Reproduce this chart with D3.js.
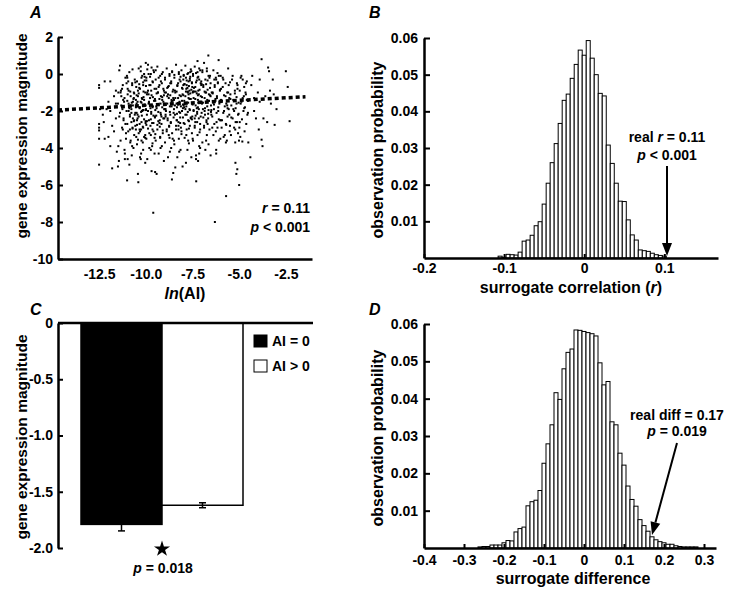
<!DOCTYPE html>
<html>
<head>
<meta charset="utf-8">
<script src="https://cdn.jsdelivr.net/npm/d3@7"></script>
<style>
body { margin: 0; background: #fff; }
svg { font-family: "Liberation Sans", Arial, Helvetica, sans-serif; font-weight: bold; }
</style>
</head>
<body>
<div id="chart"></div>
<script>
var FONT = '"Liberation Sans", Arial, Helvetica, sans-serif';

// ---- panel A: ln(AI) vs gene expression magnitude ----
var scatterA = [
[-12.5,-0.6],[-12.5,-0.75],[-12.5,-2.7],[-12.5,-2.9],[-12.5,-3.5],[-12.5,-4.9],[-12.45,-1.9],[-12.5,-3.05],
[-12.2,-0.4],[-12.1,-1.9],[-12.3,-2.2],[-12.0,-3.4],[-11.9,-3.9],[-12.2,-3.5],[-11.8,-5.1],[-11.7,-1.2],[-11.9,-0.4],[-11.6,-2.4],[-11.8,-2.8],[-12.0,-1.5],[-11.6,-0.9],[-11.7,-3.1],[-12.25,-2.6],[-11.55,-4.2],[-11.9,-2.0],[-11.6,-1.6],
[-11.38,0.45],[-11.09,-0.2],[-11.23,-0.6],[-11.47,-1.0],[-11.14,-1.3],[-11.31,-1.7],[-11.03,-2.0],[-11.42,-2.3],[-11.19,-2.5],[-11.27,-2.9],[-11.06,-3.2],[-11.35,-3.6],[-11.12,-4.3],[-11.49,-5.0],[-11.0,-5.75],[-11.44,-4.7],[-11.01,-0.1],[-11.33,-0.9],[-11.16,-1.5],[-11.25,-1.9],
[-11.38,-2.1],[-11.09,-2.7],[-11.23,-3.0],[-11.47,-3.9],[-11.14,-4.1],[-11.31,-1.2],[-11.03,-0.5],[-11.42,0.2],[-11.19,-2.4],[-11.27,-0.8],[-11.06,-3.5],[-11.35,-1.0],[-11.12,-4.6],[-11.49,-1.6],[-11.21,-1.4],
[-10.88,0.1],[-10.59,-0.3],[-10.73,-0.5],[-10.97,-0.8],[-10.64,-1.0],[-10.81,-1.2],[-10.53,-1.4],[-10.92,-1.6],[-10.69,-1.7],[-10.77,-1.9],[-10.56,-2.1],[-10.85,-2.3],[-10.62,-2.5],[-10.99,-2.7],[-10.71,-2.9],[-10.94,-3.1],[-10.51,-3.4],[-10.83,-3.7],[-10.66,-4.0],[-10.75,-4.4],
[-10.88,-4.9],[-10.4,-5.85],[-10.73,-0.6],[-10.97,-1.1],[-10.64,-1.3],[-10.81,-1.7],[-10.53,-1.8],[-10.92,-2.0],[-10.69,-2.4],[-10.77,-2.6],[-10.56,-2.8],[-10.85,-3.0],[-10.62,-3.3],[-10.99,-0.2],[-10.71,0.25],[-10.94,-0.4],[-10.51,-0.7],[-10.83,-0.95],[-10.66,-1.35],[-10.75,-1.55],
[-10.88,-1.85],[-10.59,-2.2],[-10.73,-3.9],[-10.97,-4.6],[-10.64,-2.55],[-10.81,-3.6],[-10.53,-3.0],[-10.92,-0.9],[-10.69,-1.5],[-10.77,-2.1],[-10.56,-0.45],[-10.85,-2.2],[-10.62,-1.05],[-10.99,-1.45],[-10.71,-2.95],
[-10.38,0.3],[-10.09,0.0],[-10.23,-0.2],[-10.47,-0.4],[-10.14,-0.6],[-10.31,-0.8],[-10.03,-1.0],[-10.42,-1.2],[-10.19,-1.35],[-10.27,-1.5],[-10.06,-1.65],[-10.35,-1.8],[-10.12,-1.95],[-10.49,-2.1],[-10.21,-2.25],[-10.44,-2.4],[-10.01,-2.55],[-10.33,-2.7],[-10.16,-2.85],[-10.25,-3.0],
[-10.38,-3.2],[-10.09,-3.4],[-10.23,-3.6],[-10.47,-3.8],[-10.14,-4.1],[-10.31,-4.5],[-10.03,-4.8],[-10.42,-5.4],[-10.0,0.6],[-10.27,0.4],[-10.06,-0.35],[-10.35,-0.55],[-10.12,-0.95],[-10.49,-1.15],[-10.21,-1.3],[-10.44,-1.5],[-10.01,-1.7],[-10.33,-1.85],[-10.16,-1.95],[-10.25,-2.05],
[-10.38,-2.3],[-10.09,-2.45],[-10.23,-2.6],[-10.47,-2.75],[-10.14,-2.9],[-10.31,-3.1],[-10.03,-3.3],[-10.42,-3.55],[-10.19,-0.1],[-10.27,0.15],[-10.06,-0.15],[-10.35,-0.75],[-10.12,-1.25],[-10.49,-1.6],[-10.21,-2.0],[-10.44,-2.2],[-10.01,-2.65],[-10.33,-3.0],[-10.16,-3.7],[-10.25,-4.3],
[-10.38,-1.05],[-10.09,-1.4],[-10.23,-1.55],[-10.47,-2.5],[-10.14,-0.45],[-10.31,-1.8],[-10.03,-3.45],[-10.42,-0.9],[-10.19,-2.0],[-10.27,-4.6],
[-9.88,0.5],[-9.59,0.2],[-9.73,0.0],[-9.97,-0.2],[-9.64,-0.4],[-9.81,-0.6],[-9.53,-0.8],[-9.92,-1.0],[-9.69,-1.15],[-9.77,-1.3],[-9.56,-1.45],[-9.85,-1.6],[-9.62,-1.75],[-9.99,-1.9],[-9.71,-2.05],[-9.94,-2.2],[-9.51,-2.35],[-9.83,-2.5],[-9.66,-2.65],[-9.75,-2.8],
[-9.88,-2.95],[-9.59,-3.1],[-9.73,-3.3],[-9.97,-3.5],[-9.64,-3.75],[-9.81,-4.0],[-9.53,-4.3],[-9.92,-4.6],[-9.69,-5.25],[-9.5,-5.3],[-9.6,-7.5],[-9.85,0.0],[-9.62,-0.45],[-9.99,-0.65],[-9.71,-0.9],[-9.94,-1.1],[-9.51,-1.35],[-9.83,-1.55],[-9.66,-1.7],[-9.75,-1.85],
[-9.88,-2.0],[-9.59,-2.25],[-9.73,-2.45],[-9.97,-2.75],[-9.64,-3.0],[-9.81,-3.2],[-9.53,-3.45],[-9.92,0.25],[-9.69,0.35],[-9.77,-0.15],[-9.56,0.1],[-9.85,-1.1],[-9.62,-1.25],[-9.99,-1.95],[-9.71,-2.15],[-9.94,-2.55],[-9.51,-2.3],[-9.83,-1.5],[-9.66,-3.9],[-9.75,-0.6],
[-9.88,-0.9],[-9.59,-2.65],[-9.73,-4.1],[-9.97,-0.35],[-9.64,-1.8],
[-9.38,0.4],[-9.09,0.1],[-9.23,-0.1],[-9.47,-0.3],[-9.14,-0.5],[-9.31,-0.7],[-9.03,-0.9],[-9.42,-1.05],[-9.19,-1.2],[-9.27,-1.35],[-9.06,-1.5],[-9.35,-1.65],[-9.12,-1.8],[-9.49,-1.95],[-9.21,-2.1],[-9.44,-2.25],[-9.01,-2.4],[-9.33,-2.55],[-9.16,-2.7],[-9.25,-2.85],
[-9.38,-3.0],[-9.09,-3.2],[-9.23,-3.4],[-9.47,-3.6],[-9.14,-3.9],[-9.31,-4.3],[-9.03,-4.7],[-9.42,-5.4],[-9.19,-0.4],[-9.27,-0.6],[-9.06,-0.8],[-9.35,-1.0],[-9.12,-1.25],[-9.49,-1.45],[-9.21,-1.6],[-9.44,-1.75],[-9.01,-1.9],[-9.33,-2.05],[-9.16,-2.3],[-9.25,-2.5],
[-9.38,-2.75],[-9.09,-3.05],[-9.23,-3.45],[-9.47,0.2],[-9.14,0.0],[-9.31,-0.2],[-9.03,-1.15],[-9.42,-1.85],[-9.19,-2.2],[-9.27,-2.65],[-9.06,-2.4],[-9.35,-1.0],[-9.12,-1.4],[-9.49,-3.25],[-9.21,-4.0],[-9.44,-0.8],
[-8.88,0.3],[-8.59,0.1],[-8.73,-0.1],[-8.97,-0.3],[-8.64,-0.5],[-8.81,-0.7],[-8.53,-0.85],[-8.92,-1.0],[-8.69,-1.15],[-8.77,-1.3],[-8.56,-1.45],[-8.85,-1.6],[-8.62,-1.75],[-8.99,-1.9],[-8.71,-2.05],[-8.94,-2.2],[-8.51,-2.35],[-8.83,-2.5],[-8.66,-2.65],[-8.75,-2.8],
[-8.88,-3.0],[-8.59,-3.2],[-8.73,-3.45],[-8.97,-3.7],[-8.64,-4.0],[-8.81,-4.5],[-8.53,-5.35],[-8.6,-5.7],[-8.69,-0.5],[-8.77,-0.65],[-8.56,-0.95],[-8.85,-1.2],[-8.62,-1.4],[-8.99,-1.6],[-8.71,-1.75],[-8.94,-1.9],[-8.51,-2.1],[-8.83,-2.4],[-8.66,-2.6],[-8.75,-2.85],
[-8.88,-3.1],[-8.59,0.15],[-8.73,0.0],[-8.97,-0.2],[-8.64,-0.4],[-8.81,-1.1],[-8.53,-1.3],[-8.92,-2.0],[-8.69,-2.2],[-8.77,-3.3],[-8.56,-3.5],[-8.85,-0.75],[-8.62,-1.5],[-8.99,-1.0],[-8.71,-4.2],[-8.94,-2.3],
[-8.38,0.5],[-8.09,0.2],[-8.23,0.0],[-8.47,-0.2],[-8.14,-0.4],[-8.31,-0.6],[-8.03,-0.8],[-8.42,-1.0],[-8.19,-1.15],[-8.27,-1.3],[-8.06,-1.45],[-8.35,-1.6],[-8.12,-1.75],[-8.49,-1.9],[-8.21,-2.05],[-8.44,-2.2],[-8.01,-2.35],[-8.33,-2.5],[-8.16,-2.65],[-8.25,-2.8],
[-8.38,-3.0],[-8.09,-3.25],[-8.23,-3.5],[-8.47,-3.8],[-8.14,-4.1],[-8.31,-4.5],[-8.03,-5.0],[-8.42,-5.05],[-8.19,-0.3],[-8.27,-0.5],[-8.06,-0.75],[-8.35,-0.95],[-8.12,-1.2],[-8.49,-1.4],[-8.21,-1.55],[-8.44,-1.7],[-8.01,-1.85],[-8.33,-2.15],[-8.16,-2.35],[-8.25,-2.6],
[-8.38,-2.8],[-8.09,-3.1],[-8.23,0.1],[-8.47,-0.05],[-8.14,-0.15],[-8.31,-0.65],[-8.03,-1.1],[-8.42,-1.3],[-8.19,-1.5],[-8.27,-1.65],[-8.06,-2.0],[-8.35,-2.5],[-8.12,-2.9],[-8.49,-3.6],[-8.21,-4.2],[-8.44,-0.9],[-8.01,-1.65],[-8.33,-1.8],[-8.16,-2.1],[-8.25,-3.0],
[-7.88,0.45],[-7.59,0.25],[-7.73,0.05],[-7.97,-0.1],[-7.64,-0.25],[-7.81,-0.35],[-7.53,-0.45],[-7.92,-0.55],[-7.69,-0.65],[-7.77,-0.75],[-7.56,-0.85],[-7.85,-0.95],[-7.62,-1.05],[-7.99,-1.15],[-7.71,-1.3],[-7.94,-1.45],[-7.51,-1.6],[-7.83,-1.75],[-7.66,-1.9],[-7.75,-2.05],
[-7.88,-2.2],[-7.59,-2.35],[-7.73,-2.5],[-7.97,-2.65],[-7.64,-2.8],[-7.81,-3.0],[-7.53,-3.2],[-7.92,-3.45],[-7.69,-3.75],[-7.77,-4.1],[-7.56,-4.5],[-7.85,-4.8],[-7.62,-0.15],[-7.99,-0.3],[-7.71,-0.4],[-7.94,-0.55],[-7.51,-0.7],[-7.83,-0.8],[-7.66,-0.9],[-7.75,-1.0],
[-7.88,-1.2],[-7.59,-1.35],[-7.73,-1.55],[-7.97,-1.7],[-7.64,-1.95],[-7.81,-2.2],[-7.53,-2.45],[-7.92,-2.7],[-7.69,-2.95],[-7.77,0.0],[-7.56,0.15],[-7.85,-0.2],[-7.62,0.1],[-7.99,-0.6],[-7.71,-1.1],[-7.94,-1.8],[-7.51,-2.3],[-7.83,-3.3],[-7.66,-1.35],[-7.75,-0.95],
[-7.88,-1.9],[-7.59,-2.4],[-7.73,-3.6],[-7.97,-0.05],[-7.64,-0.35],[-7.81,-0.6],[-7.53,-0.5],[-7.92,-1.6],[-7.69,-2.55],
[-7.38,0.4],[-7.09,0.2],[-7.23,0.7],[-7.47,-0.1],[-7.14,-0.3],[-7.31,-0.45],[-7.03,-0.6],[-7.42,-0.75],[-7.19,-0.9],[-7.27,-1.05],[-7.06,-1.2],[-7.35,-1.35],[-7.12,-1.5],[-7.49,-1.65],[-7.21,-1.8],[-7.44,-1.95],[-7.01,-2.1],[-7.33,-2.25],[-7.16,-2.4],[-7.25,-2.6],
[-7.38,-2.8],[-7.09,-3.0],[-7.23,-3.3],[-7.47,-3.6],[-7.14,-3.9],[-7.31,-4.6],[-7.2,-4.7],[-7.3,-5.8],[-7.19,-0.15],[-7.27,-0.35],[-7.06,-0.5],[-7.35,-0.7],[-7.12,-0.85],[-7.49,-1.0],[-7.21,-1.15],[-7.44,-1.3],[-7.01,-1.5],[-7.33,-1.7],[-7.16,-1.9],[-7.25,-2.15],
[-7.38,-2.4],[-7.09,-2.7],[-7.23,0.1],[-7.47,0.0],[-7.14,0.3],[-7.31,0.05],[-7.03,-0.4],[-7.42,-0.95],[-7.19,-1.55],[-7.27,-1.85],[-7.06,-2.3],[-7.35,-2.6],[-7.12,-3.15],[-7.49,-3.5],[-7.21,-1.4],[-7.44,-2.0],[-7.01,-0.55],[-7.33,-0.95],[-7.16,-1.1],[-7.25,-2.05],
[-7.38,-2.9],[-7.09,-4.0],[-7.23,-0.2],[-7.47,-0.95],[-7.14,-4.3],[-7.31,-4.4],
[-6.88,0.6],[-6.65,1.0],[-6.73,0.3],[-6.97,0.1],[-6.64,-0.1],[-6.81,-0.3],[-6.53,-0.5],[-6.92,-0.7],[-6.69,-0.85],[-6.77,-1.0],[-6.56,-1.15],[-6.85,-1.3],[-6.62,-1.45],[-6.99,-1.6],[-6.71,-1.75],[-6.94,-1.9],[-6.51,-2.05],[-6.83,-2.2],[-6.66,-2.4],[-6.75,-2.6],
[-6.88,-2.8],[-6.59,-3.0],[-6.73,-3.3],[-6.97,-3.7],[-6.64,-3.8],[-6.81,-4.1],[-6.53,-4.4],[-6.92,-0.6],[-6.69,-0.35],[-6.77,-0.55],[-6.56,-0.75],[-6.85,-0.95],[-6.62,-1.1],[-6.99,-1.25],[-6.71,-1.4],[-6.94,-1.55],[-6.51,-1.7],[-6.83,-1.85],[-6.66,-2.15],[-6.75,-2.5],
[-6.88,-2.9],[-6.59,-0.2],[-6.73,0.15],[-6.97,0.2],[-6.64,-1.95],[-6.81,-1.0],[-6.53,-1.2],[-6.92,-2.35],[-6.69,-2.7],[-6.77,-3.6],[-6.56,-0.1],[-6.85,-2.0],[-6.62,-1.45],
[-6.38,0.2],[-6.09,-0.1],[-6.23,-0.3],[-6.1,0.75],[-6.14,-0.5],[-6.31,-0.7],[-6.03,-0.9],[-6.42,-1.05],[-6.19,-1.2],[-6.27,-1.35],[-6.06,-1.5],[-6.35,-1.65],[-6.12,-1.8],[-6.49,-1.95],[-6.21,-2.1],[-6.44,-2.3],[-6.01,-2.5],[-6.33,-2.7],[-6.16,-2.9],[-6.25,-3.1],
[-6.38,-3.3],[-6.09,-3.6],[-6.23,-4.3],[-6.3,-8.0],[-6.14,-0.45],[-6.31,-0.6],[-6.03,-0.85],[-6.42,-1.0],[-6.19,-1.3],[-6.27,-1.45],[-6.06,-1.6],[-6.35,-1.9],[-6.12,-2.0],[-6.49,-2.2],[-6.21,-2.6],[-6.44,-2.9],[-6.01,-3.5],[-6.33,-0.3],[-6.16,0.05],[-6.25,-0.2],
[-6.38,-1.55],[-6.09,-2.45],[-6.23,-4.1],[-6.47,-1.0],
[-5.88,-0.2],[-5.59,0.3],[-5.73,-0.5],[-5.97,-0.8],[-5.64,-1.0],[-5.81,-1.15],[-5.53,-1.3],[-5.92,-1.45],[-5.69,-1.6],[-5.77,-1.75],[-5.56,-1.9],[-5.85,-2.1],[-5.62,-2.3],[-5.99,-2.5],[-5.71,-2.7],[-5.94,-2.9],[-5.51,-3.1],[-5.83,-3.4],[-5.66,-3.6],[-5.7,-6.6],
[-5.88,-0.7],[-5.59,-1.0],[-5.73,-1.2],[-5.97,-1.4],[-5.64,-1.7],[-5.81,-2.0],[-5.53,-2.2],[-5.92,-2.5],[-5.69,-2.75],[-5.77,-3.3],[-5.56,-0.6],[-5.85,-0.3],[-5.62,-1.85],[-5.99,-0.1],[-5.71,-3.7],
[-5.38,-0.3],[-5.09,-0.6],[-5.23,-0.9],[-5.47,-1.1],[-5.14,-1.25],[-5.31,-1.4],[-5.03,-1.55],[-5.42,-1.7],[-5.19,-1.85],[-5.27,-2.0],[-5.06,-2.2],[-5.35,-2.4],[-5.12,-2.6],[-5.49,-2.8],[-5.21,-3.0],[-5.44,-3.3],[-5.01,-3.6],[-5.1,-5.15],[-5.15,-5.4],[-5.0,-6.0],
[-5.2,-4.8],[-5.09,-0.8],[-5.23,-1.05],[-5.47,-1.35],[-5.14,-1.6],[-5.31,-1.9],[-5.03,-2.15],[-5.42,-2.35],[-5.19,-2.6],[-5.27,-2.9],[-5.06,-3.2],[-5.35,-0.1],[-5.12,-0.5],[-5.49,-0.45],[-5.21,-3.7],
[-4.88,-0.1],[-4.59,-0.4],[-4.73,-0.7],[-4.97,-0.9],[-4.64,-1.1],[-4.81,-1.3],[-4.53,-1.45],[-4.92,-1.6],[-4.69,-1.8],[-4.77,-2.0],[-4.56,-2.2],[-4.85,-2.45],[-4.62,-2.7],[-4.99,-2.9],[-4.71,-3.1],[-4.94,-3.4],[-4.51,-3.7],[-4.83,-3.65],[-4.66,-1.0],[-4.75,-1.2],
[-4.88,-1.5],[-4.59,-1.4],[-4.73,-1.85],[-4.97,-2.6],[-4.64,-0.5],[-4.81,-0.3],[-4.53,-2.1],[-4.92,-0.2],
[-4.4,-4.5],[-4.3,-0.1],[-4.2,-1.3],[-4.1,-2.4],[-3.95,-3.0],[-3.8,0.8],[-3.8,-3.55],[-3.75,-3.9],[-3.9,-1.5],[-3.7,-2.4],[-3.6,-1.2],[-3.5,-2.6],[-3.45,0.35],[-3.4,0.15],[-3.35,-0.9],[-3.3,-1.6],[-3.2,-0.3],[-3.1,-2.75],[-3.15,-1.1],[-3.0,-1.9],[-2.5,0.15],[-2.4,-0.7],[-2.3,-2.55],[-4.35,-0.6],[-4.2,-2.0],[-4.0,-1.0],[-3.9,-0.3]
];
var fitLineX = [-14.7, -1.45];
var fitLineY = [-1.95, -1.23];
var xTicksA = [-12.5, -10, -7.5, -5, -2.5];
var yTicksA = [2, 0, -2, -4, -6, -8, -10];

// ---- panel B: surrogate correlation histogram ----
var histBStart = -0.105, histBWidth = 0.005;
var histBProb = [0.0005, 0.0002, 0.0010, 0.0009, 0.0008, 0.0016, 0.0046, 0.0049, 0.0062, 0.0088,
  0.0099, 0.0147, 0.0204, 0.0260, 0.0312, 0.0367, 0.0430, 0.0447, 0.0490, 0.0528,
  0.0567, 0.0553, 0.0593, 0.0545, 0.0500, 0.0449, 0.0442, 0.0308, 0.0258, 0.0204,
  0.0155, 0.0154, 0.0104, 0.0063, 0.0049, 0.0022, 0.0020, 0.0018, 0.0013, 0.0009,
  0.0007, 0.0005];
var xTicksB = [-0.2, -0.1, 0, 0.1];
var yTicksProb = [0.01, 0.02, 0.03, 0.04, 0.05, 0.06];

// ---- panel C: mean expression by group ----
var groupsC = ["AI = 0", "AI > 0"];
var meansC = [-1.79, -1.62];
var semC = [0.058, 0.022];
var fillsC = ["#000", "#fff"];
var yTicksC = [0, -0.5, -1.0, -1.5, -2.0];

// ---- panel D: surrogate difference histogram ----
var histDStart = -0.26, histDWidth = 0.01;
var histDProb = [0.0003, 0.0004, 0.0004, 0.0008, 0.0008, 0.0008, 0.0014, 0.0020, 0.0019, 0.0043,
  0.0052, 0.0056, 0.0113, 0.0124, 0.0128, 0.0154, 0.0227, 0.0279, 0.0330, 0.0416,
  0.0398, 0.0480, 0.0524, 0.0533, 0.0584, 0.0583, 0.0580, 0.0577, 0.0574, 0.0568,
  0.0496, 0.0437, 0.0446, 0.0338, 0.0330, 0.0254, 0.0222, 0.0166, 0.0130, 0.0112,
  0.0076, 0.0060, 0.0045, 0.0030, 0.0022, 0.0017, 0.0014, 0.0010, 0.0010, 0.0006,
  0.0004, 0.0003, 0.0003, 0.0003, 0.0003];
var xTicksD = [-0.4, -0.3, -0.2, -0.1, 0, 0.1, 0.2, 0.3];

var svg = d3.select("#chart").append("svg")
    .attr("width", 729)
    .attr("height", 592);

// plain hyphen instead of the unicode minus, "0" without decimals
function fmt(spec) {
    var f = d3.format(spec);
    return function (d) { return d === 0 ? "0" : f(d).replace("\u2212", "-"); };
}

function styleAxis(g) {
    g.attr("font-family", FONT).attr("font-size", 14).attr("font-weight", "bold");
    g.select(".domain").attr("stroke-width", 2.5);
    g.selectAll(".tick line").attr("stroke-width", 2);
    g.selectAll(".tick text").attr("fill", "#000");
}

function addText(x, y, size, anchor, parts, rotate) {
    var t = svg.append("text")
        .attr("font-size", size)
        .attr("text-anchor", anchor);
    if (rotate) t.attr("transform", "translate(" + x + "," + y + ") rotate(-90)");
    else t.attr("x", x).attr("y", y);
    parts.forEach(function (p) {
        t.append("tspan").text(p[0]).attr("font-style", p[1] ? "italic" : "normal");
    });
    return t;
}

function arrow(x1, y1, x2, y2) {
    var ang = Math.atan2(y2 - y1, x2 - x1);
    var len = 13, half = 5;
    var bx = x2 - len * Math.cos(ang), by = y2 - len * Math.sin(ang);
    svg.append("line").attr("x1", x1).attr("y1", y1).attr("x2", bx).attr("y2", by)
        .attr("stroke", "#000").attr("stroke-width", 2);
    var px = -Math.sin(ang) * half, py = Math.cos(ang) * half;
    svg.append("path")
        .attr("d", "M" + x2 + "," + y2 + "L" + (bx + px) + "," + (by + py) + "L" + (bx - px) + "," + (by - py) + "Z")
        .attr("fill", "#000");
}

function histogram(start, w, probs, xs, ys) {
    var bins = probs.map(function (p, i) { return {c: start + i * w, p: p}; });
    svg.append("g").selectAll("rect")
        .data(bins)
        .enter().append("rect")
        .attr("x", function (d) { return xs(d.c - w / 2); })
        .attr("width", function (d) { return xs(d.c + w / 2) - xs(d.c - w / 2); })
        .attr("y", function (d) { return ys(d.p); })
        .attr("height", function (d) { return ys(0) - ys(d.p); })
        .attr("fill", "#fff")
        .attr("stroke", "#000")
        .attr("stroke-width", 1);
}

/* ================= A ================= */
var xA = d3.scaleLinear().domain([-14.7, -1.1]).range([58, 312]);
var yA = d3.scaleLinear().domain([-10, 2]).range([259, 37]);

svg.append("g").selectAll("rect")
    .data(scatterA)
    .enter().append("rect")
    .attr("x", function (d) { return xA(d[0]) - 1; })
    .attr("y", function (d) { return yA(d[1]) - 1; })
    .attr("width", 2)
    .attr("height", 2)
    .attr("fill", "#000");

svg.append("line")
    .attr("x1", xA(fitLineX[0])).attr("y1", yA(fitLineY[0]))
    .attr("x2", xA(fitLineX[1])).attr("y2", yA(fitLineY[1]))
    .attr("stroke", "#000").attr("stroke-width", 3.5)
    .attr("stroke-dasharray", "4,3");

svg.append("g").attr("transform", "translate(58,0)")
    .call(d3.axisLeft(yA).tickValues(yTicksA).tickFormat(fmt("d")).tickSizeInner(-5).tickSizeOuter(0).tickPadding(5))
    .call(styleAxis);
svg.append("g").attr("transform", "translate(0,259)")
    .call(d3.axisBottom(xA).tickValues(xTicksA).tickFormat(fmt(".1f")).tickSize(0).tickPadding(10))
    .call(styleAxis);

addText(27, 136, 15.5, "middle", [["gene expression magnitude", false]], true);
addText(185, 299, 16, "middle", [["ln", true], ["(AI)", false]]);
addText(310, 213, 14, "end", [["r", true], [" = 0.11", false]]);
addText(310, 232, 14, "end", [["p", true], [" < 0.001", false]]);
addText(30, 18, 16, "start", [["A", true]]);

/* ================= B ================= */
var xB = d3.scaleLinear().domain([-0.2, 0.167]).range([424, 718]);
var yB = d3.scaleLinear().domain([0, 0.06]).range([258, 38]);

histogram(histBStart, histBWidth, histBProb, xB, yB);

svg.append("g").attr("transform", "translate(424,0)")
    .call(d3.axisLeft(yB).tickValues(yTicksProb).tickFormat(fmt(".2f")).tickSizeInner(-6).tickSizeOuter(0).tickPadding(6))
    .call(styleAxis);
svg.append("g").attr("transform", "translate(0,258)")
    .call(d3.axisBottom(xB).tickValues(xTicksB).tickFormat(fmt(".1f")).tickSizeInner(-4).tickSizeOuter(0).tickPadding(5))
    .call(styleAxis);

addText(383, 150, 16, "middle", [["observation probability", false]], true);
addText(571, 293, 16, "middle", [["surrogate correlation (", false], ["r", true], [")", false]]);
addText(667, 142, 14, "middle", [["real ", false], ["r", true], [" = 0.11", false]]);
addText(667, 160, 14, "middle", [["p", true], [" < 0.001", false]]);
arrow(667, 166, 667, 256);
addText(369, 18, 16, "start", [["B", true]]);

/* ================= C ================= */
var xC = d3.scaleBand().domain(groupsC).range([81, 243]).padding(0);
var yC = d3.scaleLinear().domain([-2, 0]).range([548, 323]);

svg.append("g").selectAll("rect")
    .data(groupsC)
    .enter().append("rect")
    .attr("x", function (d) { return xC(d); })
    .attr("width", xC.bandwidth())
    .attr("y", yC(0))
    .attr("height", function (d, i) { return yC(meansC[i]) - yC(0); })
    .attr("fill", function (d, i) { return fillsC[i]; })
    .attr("stroke", "#000")
    .attr("stroke-width", 1.5);

var errC = svg.append("g").selectAll("g")
    .data(groupsC)
    .enter().append("g")
    .attr("stroke", "#000")
    .attr("stroke-width", 1.5);
errC.append("line")
    .attr("x1", function (d) { return xC(d) + xC.bandwidth() / 2; })
    .attr("x2", function (d) { return xC(d) + xC.bandwidth() / 2; })
    .attr("y1", function (d, i) { return yC(meansC[i] + semC[i]); })
    .attr("y2", function (d, i) { return yC(meansC[i] - semC[i]); });
[1, -1].forEach(function (s) {
    errC.append("line")
        .attr("x1", function (d) { return xC(d) + xC.bandwidth() / 2 - 3.5; })
        .attr("x2", function (d) { return xC(d) + xC.bandwidth() / 2 + 3.5; })
        .attr("y1", function (d, i) { return yC(meansC[i] + s * semC[i]); })
        .attr("y2", function (d, i) { return yC(meansC[i] + s * semC[i]); });
});

svg.append("line")
    .attr("x1", 58).attr("x2", 313).attr("y1", yC(0)).attr("y2", yC(0))
    .attr("stroke", "#000").attr("stroke-width", 2.5);
svg.append("g").attr("transform", "translate(58,0)")
    .call(d3.axisLeft(yC).tickValues(yTicksC).tickFormat(fmt(".1f")).tickSizeInner(-5).tickSizeOuter(0).tickPadding(5))
    .call(styleAxis);

var legC = svg.append("g").selectAll("g")
    .data(groupsC)
    .enter().append("g")
    .attr("transform", function (d, i) { return "translate(254," + (335 + i * 25) + ")"; });
legC.append("rect")
    .attr("width", 13).attr("height", 12)
    .attr("fill", function (d, i) { return fillsC[i]; })
    .attr("stroke", "#000").attr("stroke-width", 1);
legC.append("text")
    .attr("x", 18).attr("y", 11)
    .attr("font-size", 14)
    .text(function (d) { return d; });

addText(27, 437, 15.5, "middle", [["gene expression magnitude", false]], true);
// significance star between the two bars
svg.append("path")
    .attr("d", d3.symbol().type(d3.symbolStar).size(80)())
    .attr("transform", "translate(" + xC("AI > 0") + ",549)")
    .attr("fill", "#000");
addText(163, 573, 14, "middle", [["p", true], [" = 0.018", false]]);
addText(30, 315, 16, "start", [["C", true]]);

/* ================= D ================= */
var xD = d3.scaleLinear().domain([-0.4, 0.33]).range([424, 716]);
var yD = d3.scaleLinear().domain([0, 0.06]).range([548, 324]);

histogram(histDStart, histDWidth, histDProb, xD, yD);

svg.append("g").attr("transform", "translate(424,0)")
    .call(d3.axisLeft(yD).tickValues(yTicksProb).tickFormat(fmt(".2f")).tickSizeInner(-6).tickSizeOuter(0).tickPadding(6))
    .call(styleAxis);
svg.append("g").attr("transform", "translate(0,548)")
    .call(d3.axisBottom(xD).tickValues(xTicksD).tickFormat(fmt(".1f")).tickSizeInner(-4).tickSizeOuter(0).tickPadding(7))
    .call(styleAxis);

addText(383, 438, 16, "middle", [["observation probability", false]], true);
addText(573, 584, 16, "middle", [["surrogate difference", false]]);
addText(677, 420, 14, "middle", [["real diff = 0.17", false]]);
addText(677, 436, 14, "middle", [["p", true], [" = 0.019", false]]);
arrow(677, 443, 652, 535);
addText(369, 315, 16, "start", [["D", true]]);
</script>
</body>
</html>
